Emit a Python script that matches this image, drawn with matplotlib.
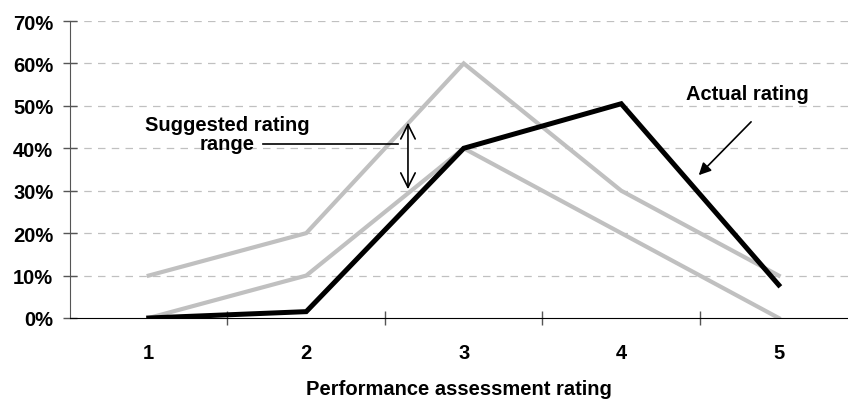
import matplotlib
matplotlib.use("Agg")
import matplotlib.pyplot as plt
from matplotlib.ticker import PercentFormatter

plt.rcParams["font.family"] = ["Liberation Sans", "DejaVu Sans"]
plt.rcParams["font.weight"] = "bold"

ratings = [1, 2, 3, 4, 5]
upper_range = [0.10, 0.20, 0.60, 0.30, 0.10]
lower_range = [0.00, 0.10, 0.40, 0.20, 0.00]
actual = [0.00, 0.015, 0.40, 0.505, 0.078]
y_ticks = [0, 0.1, 0.2, 0.3, 0.4, 0.5, 0.6, 0.7]

fs = 14.5

fig = plt.figure(figsize=(8.48, 4.02), dpi=100)
ax = fig.add_axes([70 / 848, 1 - 319 / 402, 1 - 70 / 848, 297 / 402])

gray = "#c0c0c0"
ax.plot(ratings, upper_range, color=gray, lw=3, solid_joinstyle="miter", zorder=3)
ax.plot(ratings, lower_range, color=gray, lw=3, solid_joinstyle="miter", zorder=3)
ax.plot(ratings, actual, color="black", lw=3.6, solid_joinstyle="miter", zorder=4)

ax.set_xlim(0.5, 5.44)
ax.set_ylim(0, 0.7)
ax.set_yticks(y_ticks)
ax.yaxis.set_major_formatter(PercentFormatter(1.0, decimals=0))
ax.set_xticks(ratings)
ax.set_xticks([1.5, 2.5, 3.5, 4.5], minor=True)
ax.tick_params(axis="x", which="major", length=0, pad=18, labelsize=fs)
ax.tick_params(axis="x", which="minor", direction="inout", length=10, width=1, color="#555555")
ax.tick_params(axis="y", direction="inout", length=10, width=1, color="#555555", labelsize=fs, pad=7)
for v in y_ticks[1:]:
    ax.axhline(v, color=gray, lw=0.9, ls=(0, (6, 5)), zorder=1)

ax.spines["top"].set_visible(False)
ax.spines["right"].set_visible(False)
ax.spines["left"].set_color("#555555")
ax.spines["bottom"].set_color("black")
ax.spines["bottom"].set_zorder(5)

ax.set_xlabel("Performance assessment rating", fontsize=fs, fontweight="bold", labelpad=12)

# annotations
ax.text(1.5, 0.433, "Suggested rating\nrange", ha="center", va="center",
        fontsize=fs, fontweight="bold", linespacing=1.0)
ax.plot([1.725, 2.58], [0.41, 0.41], color="black", lw=1.2, zorder=5)
ax.annotate("", xy=(2.646, 0.467), xytext=(2.646, 0.297),
            arrowprops=dict(arrowstyle="<->", color="black", lw=1.2, mutation_scale=26))
ax.text(4.8, 0.53, "Actual rating", ha="center", va="center", fontsize=fs, fontweight="bold")
ax.annotate("", xy=(4.48, 0.332), xytext=(4.837, 0.467),
            arrowprops=dict(arrowstyle="-|>", color="black", lw=1.2, mutation_scale=18))

fig.savefig("out.png", dpi=100)
